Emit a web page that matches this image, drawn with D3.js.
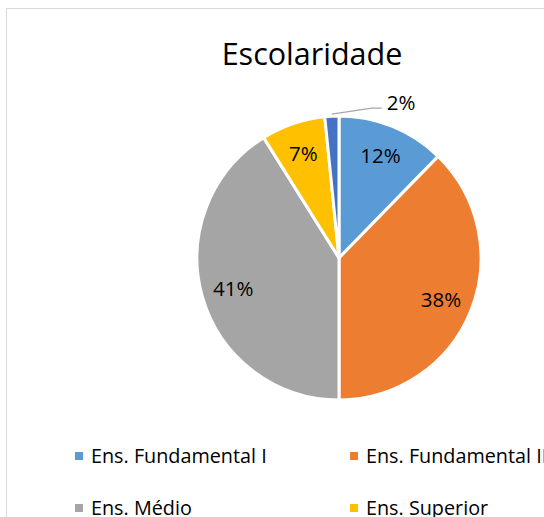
<!DOCTYPE html>
<html>
<head>
<meta charset="utf-8">
<script src="https://cdn.jsdelivr.net/npm/d3@7"></script>
<style>
  body { margin: 0; background: #fff; overflow: hidden; }
  text { font-family: "Open Sans", "Noto Sans", sans-serif; fill: #000; }
</style>
</head>
<body>
<div id="chart"></div>
<script>
var categories = ["Ens. Fundamental I", "Ens. Fundamental II", "Ens. Médio", "Ens. Superior", "Pós-graduação"];
var values = [12.3, 37.7, 41.1, 7.3, 1.6];
var labels = ["12%", "38%", "41%", "7%", "2%"];
var colors = ["#5b9bd5", "#ed7d31", "#a5a5a5", "#ffc000", "#4472c4"];

var width = 544, height = 517;
var cx = 339, cy = 258, radius = 142;

var svg = d3.select("#chart").append("svg")
    .attr("width", width)
    .attr("height", height);

// chart frame (goes past the window edge)
svg.append("rect")
  .attr("x", 6.5).attr("y", 8.5)
  .attr("width", 600).attr("height", 600)
  .attr("fill", "#fff")
  .attr("stroke", "#d9d9d9")
  .attr("stroke-width", 1);

svg.append("text")
  .attr("x", 312).attr("y", 65)
  .attr("text-anchor", "middle")
  .style("font-size", "30.5px")
  .text("Escolaridade");

var pie = d3.pie().sort(null).value(function (d) { return d; });
var arcs = pie(values);
var arc = d3.arc().innerRadius(0).outerRadius(radius);
var labelArc = d3.arc().innerRadius(110).outerRadius(110);

var g = svg.append("g")
  .attr("transform", "translate(" + cx + "," + cy + ")");

g.selectAll(".slice")
  .data(arcs)
  .enter().append("path")
  .attr("class", "slice")
  .attr("d", arc)
  .attr("fill", function (d, i) { return colors[i]; })
  .attr("stroke", "#fff")
  .attr("stroke-width", 3)
  .attr("stroke-linejoin", "round");

g.selectAll(".lbl")
  .data(arcs.slice(0, 4))
  .enter().append("text")
  .attr("class", "lbl")
  .attr("transform", function (d) { return "translate(" + labelArc.centroid(d) + ")"; })
  .attr("text-anchor", "middle")
  .attr("dy", "0.35em")
  .style("font-size", "20.5px")
  .text(function (d, i) { return labels[i]; });

// small slice label with leader line
var small = arcs[4];
var mid = (small.startAngle + small.endAngle) / 2;
var p0 = [Math.sin(mid) * (radius + 2), -Math.cos(mid) * (radius + 2)];
var p1 = [p0[0] + 40, p0[1] - 6];
var p2 = [p1[0] + 10, p1[1]];
g.append("polyline")
  .attr("points", [p0, p1, p2].map(function (p) { return p.join(","); }).join(" "))
  .attr("fill", "none")
  .attr("stroke", "#a6a6a6")
  .attr("stroke-width", 1.2);
g.append("text")
  .attr("x", p2[0] + 5).attr("y", p2[1] - 5)
  .attr("dy", "0.35em")
  .style("font-size", "20.5px")
  .text(labels[4]);

// legend
var legend = svg.selectAll(".legend")
  .data(categories)
  .enter().append("g")
  .attr("class", "legend")
  .attr("transform", function (d, i) {
    return "translate(" + (i % 2 === 0 ? 75 : 350) + "," + (456 + Math.floor(i / 2) * 52) + ")";
  });

legend.append("rect")
  .attr("x", 0).attr("y", -4)
  .attr("width", 8).attr("height", 8)
  .attr("fill", function (d, i) { return colors[i]; });

legend.append("text")
  .attr("x", 16)
  .attr("dy", "0.35em")
  .style("font-size", "19.8px")
  .text(function (d) { return d; });
</script>
</body>
</html>
